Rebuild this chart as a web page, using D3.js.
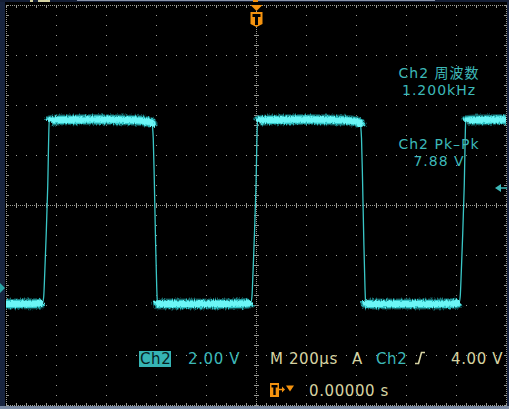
<!DOCTYPE html>
<html>
<head>
<meta charset="utf-8">
<script src="https://cdn.jsdelivr.net/npm/d3@7"></script>
<style>
  body { margin: 0; background: #000; }
  svg { display: block; }
  text { font-family: "DejaVu Sans", "Noto Sans CJK JP", sans-serif; font-size: 15px; letter-spacing: 0.6px; }
  .meas text { font-size: 14px; letter-spacing: 1px; }
</style>
</head>
<body>
<svg width="509" height="409"></svg>
<script>
// Ch2 trace: time in µs (trigger = 0), level in volts
var traceTime = [-1000, -880, -860, -853, -849, -845, -839, -833, -827,
  -825, -790, -640, -480, -435, -417, -414, -411, -407, -402, -397, -395, -393,
  -390, -200, -40, -26, -20, -16, -12, -6, 0, 6,
  8, 43, 193, 353, 398, 416, 419, 422, 426, 431, 436, 438, 440,
  443, 640, 800, 807, 813, 817, 821, 827, 833, 839,
  841, 876, 1000];
var traceVolt = [-0.64, -0.63, -0.6, -0.56, -0.32, 0.6, 2.2, 4.1, 6.66,
  6.69, 6.72, 6.74, 6.71, 6.66, 6.6, 6.45, 6.0, 4.4, 2.0, 0.0, -0.5, -0.62,
  -0.64, -0.64, -0.62, -0.6, -0.56, -0.32, 0.6, 2.2, 4.1, 6.66,
  6.69, 6.72, 6.74, 6.71, 6.66, 6.6, 6.45, 6.0, 4.4, 2.0, 0.0, -0.5, -0.62,
  -0.64, -0.64, -0.62, -0.6, -0.56, -0.32, 0.6, 2.2, 4.1, 6.66,
  6.69, 6.72, 6.74];

var voltsPerDiv = 2;      // Ch2 2.00 V
var chPosDiv = -1.66;     // ground marker, divisions from centre
var timePerDiv = 200;     // M 200µs
var trigLevel = 4;        // 4.00 V

var measNames = ["Ch2 周波数", "Ch2 Pk–Pk"];
var measValues = ["1.200kHz", "7.88 V"];

var teal = "#3db8b8", tan = "#d6d3a2", orange = "#f5930f", gridColor = "#9a9a94";

var svg = d3.select("svg"),
  width = +svg.attr("width"),
  height = +svg.attr("height");

// scales
var x = d3.scaleLinear().domain([-5 * timePerDiv, 5 * timePerDiv]).range([6, 506]);
var gy = d3.scaleLinear().domain([-4, 4]).range([405, 5]);
var y = d3.scaleLinear()
  .domain([(-4 - chPosDiv) * voltsPerDiv, (4 - chPosDiv) * voltsPerDiv])
  .range([405, 5]);

// frame
svg.append("rect").attr("width", width).attr("height", height).attr("fill", "#000");
svg.append("rect").attr("x", 0).attr("y", 0).attr("width", 5).attr("height", height).attr("fill", "#18243f");
svg.append("rect").attr("x", 507).attr("y", 0).attr("width", 2).attr("height", height).attr("fill", "#18243f");
svg.append("rect").attr("x", 0).attr("y", 406).attr("width", width).attr("height", 3).attr("fill", "#7a89a2");
svg.append("rect").attr("x", 0).attr("y", 0).attr("width", width).attr("height", 2).attr("fill", "#141e36");
svg.append("rect").attr("x", 77).attr("y", 0).attr("width", 358).attr("height", 1).attr("fill", "#8a94aa");
svg.append("rect").attr("x", 30).attr("y", 0).attr("width", 3).attr("height", 2).attr("fill", tan);
svg.append("rect").attr("x", 38).attr("y", 0).attr("width", 12).attr("height", 2).attr("fill", tan);
svg.append("rect").attr("x", 253).attr("y", 0).attr("width", 5).attr("height", 2).attr("fill", orange);

// graticule
var grat = svg.append("g").attr("fill", gridColor);
function dot(px, py, w, h) {
  grat.append("rect").attr("x", Math.round(px)).attr("y", Math.round(py))
    .attr("width", w || 1).attr("height", h || 1);
}
var majorT = d3.range(-5, 6).map(function(d) { return d * timePerDiv; });
var minorT = d3.range(-25, 26).map(function(d) { return d * timePerDiv / 5; });
var majorV = d3.range(-4, 5);
var minorV = d3.range(-20, 21).map(function(d) { return d / 5; });

majorT.forEach(function(t) {
  if (t === 0 || Math.abs(t) === 5 * timePerDiv) return;
  minorV.forEach(function(v) { dot(x(t), gy(v)); });
});
majorV.forEach(function(v) {
  if (v === 0 || Math.abs(v) === 4) return;
  minorT.forEach(function(t) { dot(x(t), gy(v)); });
});
// borders and centre cross: fine dots + ticks
for (var px = 6; px <= 506; px += 2) { dot(px, 5); dot(px, 405); dot(px, 205); }
for (var py = 5; py <= 405; py += 2) { dot(6, py); dot(506, py); dot(256, py); }
minorT.forEach(function(t) {
  dot(x(t), 5, 1, 3); dot(x(t), 403, 1, 3); dot(x(t), 203, 1, 5);
});
minorV.forEach(function(v) {
  dot(6, gy(v), 3, 1); dot(504, gy(v), 3, 1); dot(254, gy(v), 5, 1);
});

// trace
var pts = traceTime.map(function(t, i) { return [t, traceVolt[i]]; });
var line = d3.line().x(function(d) { return x(d[0]); }).y(function(d) { return y(d[1]); })
  .curve(d3.curveMonotoneX);

var defs = svg.append("defs");
defs.append("clipPath").attr("id", "screen").append("rect")
  .attr("x", 6).attr("y", 5).attr("width", 501).attr("height", 401);
var f = defs.append("filter").attr("id", "fuzz").attr("filterUnits", "userSpaceOnUse")
  .attr("x", 0).attr("y", 0).attr("width", width).attr("height", height);
f.append("feTurbulence").attr("type", "fractalNoise").attr("baseFrequency", "0.9 0.25")
  .attr("numOctaves", 2).attr("seed", 4).attr("result", "n");
f.append("feDisplacementMap").attr("in", "SourceGraphic").attr("in2", "n")
  .attr("scale", 4).attr("xChannelSelector", "R").attr("yChannelSelector", "G");

// flat parts of the trace are drawn as the wide, noisy band
var flats = [], cur = null;
for (var i = 1; i < pts.length; i++) {
  if (Math.abs(pts[i][1] - pts[i - 1][1]) < 0.2) {
    if (!cur) { cur = [pts[i - 1]]; flats.push(cur); }
    cur.push(pts[i]);
  } else cur = null;
}

var tg = svg.append("g").attr("clip-path", "url(#screen)");
tg.append("path").datum(pts).attr("d", line)
  .attr("fill", "none").attr("stroke", "#3ac6c6").attr("stroke-width", 1.3);

var band = tg.append("g").attr("filter", "url(#fuzz)").attr("fill", "none")
  .attr("stroke-linecap", "butt");
[[11, "#1b8f94", 0.55], [8.5, "#33c9cc", 0.95], [6, "#6cf6f6", 1]].forEach(function(s) {
  band.selectAll(null).data(flats).enter().append("path")
    .attr("d", line).attr("stroke", s[1]).attr("stroke-width", s[0]).attr("stroke-opacity", s[2]);
});

// ground marker (left) and trigger level marker (right)
svg.append("path")
  .attr("d", "M0," + (y(0) - 5) + "L5," + y(0) + "L0," + (y(0) + 5) + "Z")
  .attr("fill", "#2aa6a6");
var ty = y(trigLevel);
svg.append("path")
  .attr("d", "M495," + ty + "L501," + (ty - 4) + "L501," + (ty + 4) + "Z")
  .attr("fill", teal);
svg.append("rect").attr("x", 500).attr("y", ty - 0.75).attr("width", 7).attr("height", 1.5).attr("fill", teal);

// trigger position marker (top)
var tx = x(0) + 0.5;
svg.append("path").attr("d", "M" + (tx - 6) + ",5L" + (tx + 6) + ",5L" + tx + ",11Z").attr("fill", orange);
svg.append("path")
  .attr("d", "M" + (tx - 6) + ",12L" + (tx + 6) + ",12L" + (tx + 6) + ",24L" + tx + ",27L" + (tx - 6) + ",24Z")
  .attr("fill", orange);
svg.append("path")
  .attr("d", "M" + (tx - 4) + ",14h8v3h-2.5v8h-3v-8h-2.5Z")
  .attr("fill", "#000");

// measurement readouts
var meas = svg.append("g").attr("class", "meas").attr("fill", teal).attr("text-anchor", "middle");
measNames.forEach(function(n, i) {
  meas.append("text").attr("x", 439).attr("y", 78 + i * 71).text(n);
  meas.append("text").attr("x", 439).attr("y", 95 + i * 71).text(measValues[i]);
});

// bottom status line
var st = svg.append("g");
st.append("rect").attr("x", 139).attr("y", 351).attr("width", 32).attr("height", 16).attr("fill", "#36b4b4");
st.append("text").attr("x", 140).attr("y", 364).attr("fill", "#06201f").text("Ch2");
st.append("text").attr("x", 188).attr("y", 364).attr("fill", teal).text(voltsPerDiv.toFixed(2) + " V");
st.append("text").attr("x", 270).attr("y", 364).attr("fill", tan).text("M " + timePerDiv + "µs");
st.append("text").attr("x", 352).attr("y", 364).attr("fill", tan).text("A");
st.append("text").attr("x", 376).attr("y", 364).attr("fill", teal).text("Ch2");
st.append("path").attr("d", "M415,363.5h3.5l3,-11h3.5").attr("fill", "none")
  .attr("stroke", tan).attr("stroke-width", 1.6);
st.append("text").attr("x", 451).attr("y", 364).attr("fill", tan).text(trigLevel.toFixed(2) + " V");

st.append("rect").attr("x", 270).attr("y", 383).attr("width", 9).attr("height", 14).attr("fill", orange);
st.append("path").attr("d", "M271.5,385h6v2.5h-1.8v7.5h-2.4v-7.5h-1.8Z").attr("fill", "#000");
st.append("path").attr("d", "M279,389.5h4").attr("stroke", orange).attr("stroke-width", 1.5);
st.append("path").attr("d", "M282,386.5l3,3l-3,3Z").attr("fill", orange);
st.append("path").attr("d", "M286,385.5h8l-4,6Z").attr("fill", orange);
st.append("text").attr("x", 309).attr("y", 396).attr("fill", tan).text("0.00000 s");
</script>
</body>
</html>
